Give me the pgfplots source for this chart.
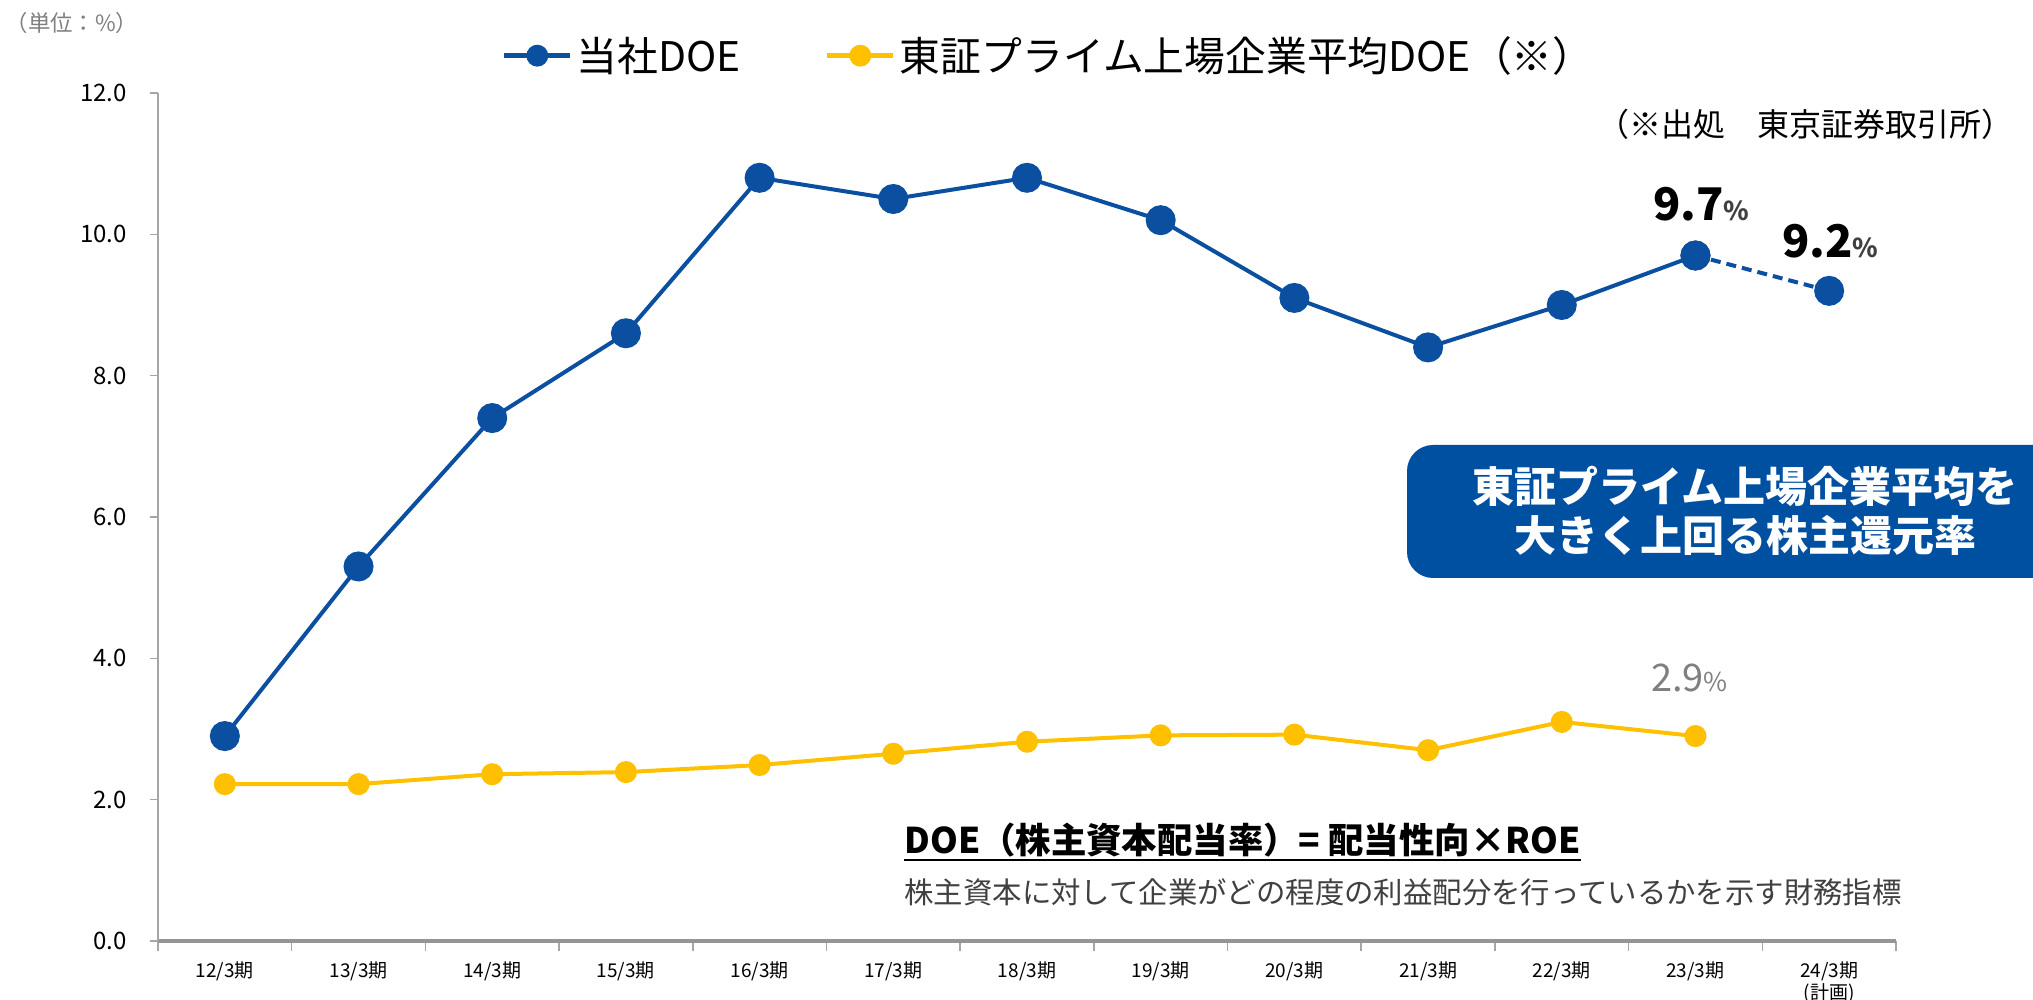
\documentclass[border=0pt]{standalone}
\usepackage{fontspec}
\setmainfont{Noto Sans CJK JP}
\usepackage{pgfplots}
\pgfplotsset{compat=1.18}
\definecolor{dblue}{HTML}{0B4FA1}
\definecolor{dyel}{HTML}{FFC000}
\definecolor{boxblue}{HTML}{0050A2}
\definecolor{axgray}{HTML}{A6A6A6}
\definecolor{txtgray}{HTML}{7F7F7F}
\definecolor{dgray}{HTML}{404040}
\begin{document}
\begin{tikzpicture}
\path[use as bounding box] (-79pt,-29.5pt) rectangle (937.5pt,470.5pt);
\begin{axis}[
  at={(0,0)}, anchor=south west, scale only axis,
  width=869pt, height=424pt,
  xmin=-0.5, xmax=12.5, ymin=0, ymax=12,
  axis lines=left,
  axis line style={-, draw=axgray, line width=0.8pt},
  x axis line style={line width=1.6pt, draw=axgray!90!black},
  tick align=outside,
  ytick={0,2,...,12},
  major tick length=4pt,
  minor tick length=5pt,
  tick style={draw=axgray, line width=0.8pt},
  yticklabel style={/pgf/number format/fixed, /pgf/number format/fixed zerofill, /pgf/number format/precision=1, /pgf/number format/assume math mode=true, font=\fontsize{12}{13}\selectfont, text=black, xshift=-8pt},
  xtick={0,...,12},
  xticklabels={12/3期,13/3期,14/3期,15/3期,16/3期,17/3期,18/3期,19/3期,20/3期,21/3期,22/3期,23/3期,{24/3期\\(計画)}},
  x tick label style={align=center, font=\fontsize{9.5}{11}\selectfont, text=black},
  major x tick style={draw=none},
  minor xtick={-0.5,0.5,...,12.5},
  minor x tick style={draw=axgray, line width=0.8pt},
  xticklabel shift=3pt,
  clip=false,
  legend columns=2,
  legend style={at={(0.513,1.044)}, anchor=center, draw=none, fill=none,
    font=\fontsize{20.4}{22}\selectfont,
    /tikz/every even column/.append style={column sep=40pt}},
  legend image code/.code={\draw[#1, mark repeat=2, mark phase=2, mark size=4.2pt, line width=2.5pt] plot coordinates {(0pt,0pt) (16.5pt,0pt) (33pt,0pt)};},
]
\addplot[dblue, line width=2pt, mark=*, mark size=6.5pt, mark options={solid, fill=dblue, draw=dblue}]
  coordinates {(0,2.9) (1,5.3) (2,7.4) (3,8.6) (4,10.8) (5,10.5) (6,10.8) (7,10.2) (8,9.1) (9,8.4) (10,9.0) (11,9.7)};
\addlegendentry{当社DOE}
\addplot[dyel, line width=2pt, mark=*, mark size=4.5pt, mark options={solid, fill=dyel, draw=dyel}]
  coordinates {(0,2.22) (1,2.22) (2,2.36) (3,2.39) (4,2.49) (5,2.65) (6,2.82) (7,2.91) (8,2.92) (9,2.70) (10,3.10) (11,2.90)};
\addlegendentry{東証プライム上場企業平均DOE（※）}
\addplot[dblue, line width=2pt, dash pattern=on 5pt off 3pt, mark=*, mark size=6.5pt, mark options={solid, fill=dblue, draw=dblue}, forget plot]
  coordinates {(11,9.7) (12,9.2)};
\node at (axis cs:11,9.7) [yshift=25.5pt, xshift=3pt] {{\fontsize{22.5}{24}\selectfont\bfseries 9.7}{\fontsize{13}{15}\selectfont\bfseries\color{dgray}\%}};
\node at (axis cs:12,9.2) [yshift=25pt, xshift=0.5pt] {{\fontsize{22.5}{24}\selectfont\bfseries 9.2}{\fontsize{13}{15}\selectfont\bfseries\color{dgray}\%}};
\node at (axis cs:11,2.9) [yshift=29pt, xshift=-3pt, text=txtgray] {{\fontsize{19}{21}\selectfont 2.9}{\fontsize{13}{15}\selectfont\%}};
\end{axis}
\node[text=txtgray, font=\fontsize{11.2}{12}\selectfont] at (-43pt,459pt) {（単位：\%）};
\node[anchor=east, font=\fontsize{16}{18}\selectfont, inner sep=0pt] at (928pt,408.5pt) {（※出処　東京証券取引所）};
\fill[boxblue, rounded corners=13pt] (624.5pt,181.5pt) rectangle (960pt,248pt);
\node[text=white, align=center, font=\fontsize{21}{24.5}\selectfont\bfseries] at (793.5pt,215pt) {東証プライム上場企業平均を\\大きく上回る株主還元率};
\node[anchor=west, inner sep=0pt, font=\fontsize{17.7}{20}\selectfont\bfseries] (f) at (373pt,50.5pt) {DOE（株主資本配当率）= 配当性向×ROE};
\draw[line width=1pt] ([yshift=-1.5pt]f.south west) -- ([yshift=-1.5pt]f.south east);
\node[anchor=west, inner sep=0pt, text=dgray, font=\fontsize{14.7}{16}\selectfont] at (373pt,24.5pt) {株主資本に対して企業がどの程度の利益配分を行っているかを示す財務指標};
\end{tikzpicture}
\end{document}
